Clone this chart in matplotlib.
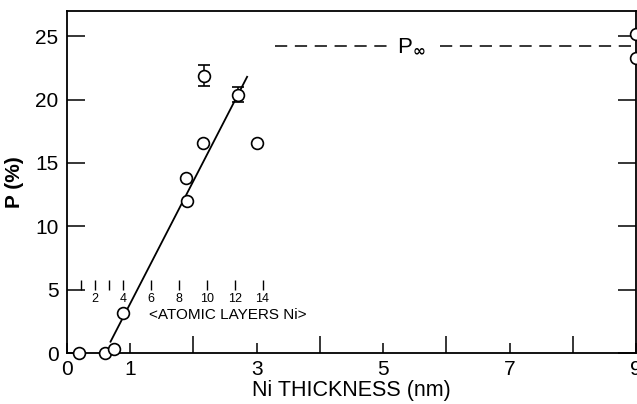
import matplotlib.pyplot as plt
import numpy as np

# Ni thickness (nm) and polarization P (%)
thick = [0.19, 0.61, 0.74, 0.89, 1.88, 1.90, 2.16, 3.00, 9.0, 9.0]
pol = [0.0, 0.0, 0.3, 3.2, 13.8, 12.0, 16.6, 16.6, 25.2, 23.3]

# points with error bars
err_thick = [2.17, 2.71]
err_pol = [21.9, 20.4]
err_size = [0.8, 0.6]

# straight line fit through the rising part
fit_x = [0.69, 2.85]
fit_y = [0.9, 21.8]

# saturation value P_inf
p_inf = 24.2
p_inf_segments = [(3.29, 5.06), (5.90, 9.0)]

# atomic layer scale
layers = [1, 2, 3, 4, 6, 8, 10, 12, 14]
layer_labels = [2, 4, 6, 8, 10, 12, 14]
nm_per_layer = 0.221

plt.rcParams['font.family'] = ['Liberation Sans', 'DejaVu Sans']

fig = plt.figure(figsize=(6.37, 4.04), dpi=100)
ax = fig.add_axes([0.105, 0.126, 0.8935, 0.847])

ax.plot(fit_x, fit_y, color='black', lw=1.3)
ax.plot(thick, pol, 'o', ms=8.5, mfc='white', mec='black', mew=1.2,
        clip_on=False, zorder=3)
ax.errorbar(err_thick, err_pol, yerr=err_size, fmt='o', ms=8.5, mfc='white',
            mec='black', mew=1.2, ecolor='black', elinewidth=1.1, capsize=4,
            zorder=3)

for x0, x1 in p_inf_segments:
    ax.plot([x0, x1], [p_inf, p_inf], color='black', lw=1.1,
            dashes=(8, 5), clip_on=False)
ax.text(5.45, p_inf, r'P$_{\mathbf{\infty}}$', fontsize=16, ha='center',
        va='center')

# atomic layers scale
layer_nm = np.array(layers) * nm_per_layer
ax.vlines(layer_nm, 5.0, 5.8, color='black', lw=1.0)
for lab in layer_labels:
    ax.text(lab * nm_per_layer, 4.3, str(lab), fontsize=9, ha='center',
            va='center')
ax.text(2.55, 2.97, '<ATOMIC LAYERS Ni>', fontsize=11, ha='center',
        va='center')

ax.set_xlim(0, 9)
ax.set_ylim(0, 27)
ax.set_xticks([0, 1, 3, 5, 7, 9])
ax.set_xticklabels(['0', '1', '3', '5', '7', '9'])
ax.set_xticks([2, 4, 6, 8], minor=True)
ax.set_yticks([0, 5, 10, 15, 20, 25])
ax.tick_params(axis='x', which='major', direction='in', length=7, width=1.1,
               labelsize=15, pad=5)
ax.tick_params(axis='x', which='minor', direction='in', length=12, width=1.1)
ax.tick_params(axis='y', which='major', direction='in', length=13, width=1.1,
               labelsize=15, right=True, pad=6)
for s in ax.spines.values():
    s.set_linewidth(1.3)

ax.set_xlabel('Ni THICKNESS (nm)', fontsize=15.5, labelpad=1)
ax.set_ylabel('P (%)', fontsize=15, fontweight='bold', labelpad=8)

fig.savefig('out.png', dpi=100)
